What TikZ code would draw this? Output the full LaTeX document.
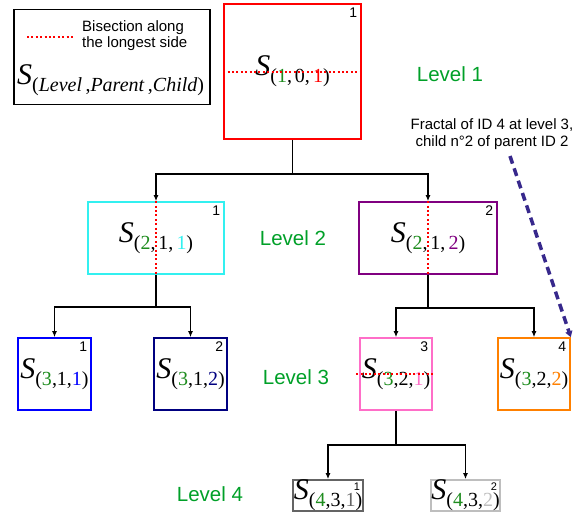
\documentclass[tikz,border=0pt]{standalone}
\usepackage{fontspec}
\setmainfont{Liberation Sans}
\newfontfamily\serifS{Liberation Serif}
\usetikzlibrary{arrows.meta,positioning}

\definecolor{lvgreen}{RGB}{0,160,40}
\definecolor{sgreen}{RGB}{30,140,30}
\definecolor{boxcyan}{RGB}{50,240,240}
\definecolor{boxpurple}{RGB}{128,0,128}
\definecolor{boxpink}{RGB}{255,110,200}
\definecolor{boxorange}{RGB}{255,128,0}
\definecolor{boxgray}{RGB}{100,100,100}
\definecolor{boxlight}{RGB}{190,190,190}
\definecolor{notenavy}{RGB}{55,40,140}

% name of a fractal: S_(level,parent,child), optional space after the commas
\newcommand{\Sname}[5][0pt]{{\serifS\fontsize{30}{30}\selectfont\itshape S}{\serifS\fontsize{20}{20}\selectfont\raisebox{-7pt}{(\textcolor{sgreen}{#2},\hspace{#1}#3,\hspace{#1}\textcolor{#5}{#4})}}}

\tikzset{
  fbox/.style={draw, line width=1.6pt, rectangle, inner sep=0pt},
  corner/.style={anchor=north east, inner sep=2.5pt, font=\fontsize{14}{14}\selectfont},
  lvl/.style={text=lvgreen, font=\fontsize{20.5}{20.5}\selectfont},
  conn/.style={line width=1.6pt},
  arr/.style={line width=1.6pt, -{Latex[length=6pt,width=5pt]}},
  bisect/.style={red, line width=2pt, dash pattern=on 2pt off 2.4pt}
}

\begin{document}
\begin{tikzpicture}[x=1pt, y=-1pt]
\useasboundingbox (0,0) rectangle (587,515);

% Legend
\node[draw, line width=1.2pt, minimum width=196pt, minimum height=95pt, inner sep=0pt] (legend) at (112,57) {};
\coordinate (bl) at (27,37);
\coordinate (br) at (73,37);
\draw[bisect, line width=1.5pt] (bl) -- (br);
\node[anchor=north west, align=left, inner sep=0pt, font=\fontsize{15}{16}\selectfont] (legtxt) at (82,20) {Bisection along\\the longest side};
\node[anchor=west, inner sep=0pt] (legname) at (17,80) {{\serifS\fontsize{30}{30}\selectfont\itshape S}{\serifS\fontsize{20}{20}\selectfont\raisebox{-7pt}{(\textit{Level}\,,\textit{Parent}\,,\textit{Child})}}};

% Level 1
\node[fbox, red, text=black, minimum width=137pt, minimum height=135pt] (l1) at (292.5,71.5) {\Sname[3pt]{1}{0}{1}{red}};
\node[corner] (l1n) at ([xshift=-2pt,yshift=-2pt]l1.north east) {1};
\draw[bisect] (l1.west) -- (l1.east);
\node[lvl] (lv1) at (450,74) {Level 1};

% Level 2
\node[fbox, boxcyan, text=black, minimum width=136pt, minimum height=72pt] (l2a) at (156,238) {\Sname[3pt]{2}{1}{1}{boxcyan}};
\node[corner] (l2an) at ([xshift=-2pt,yshift=-2pt]l2a.north east) {1};
\node[fbox, boxpurple, text=black, minimum width=138pt, minimum height=72pt] (l2b) at (428,238) {\Sname[3pt]{2}{1}{2}{boxpurple}};
\node[corner] (l2bn) at ([xshift=-2pt,yshift=-2pt]l2b.north east) {2};
\draw[bisect] (l2a.north) -- (l2a.south);
\draw[bisect] (l2b.north) -- (l2b.south);
\node[lvl] (lv2) at (293,238) {Level 2};

% Level 3
\node[fbox, blue, text=black, minimum width=73pt, minimum height=72pt] (l3a) at (54.5,374) {\Sname{3}{1}{1}{blue}};
\node[corner] (l3an) at ([xshift=-2pt,yshift=-2pt]l3a.north east) {1};
\node[fbox, blue!50!black, text=black, minimum width=73pt, minimum height=72pt] (l3b) at (190.5,374) {\Sname{3}{1}{2}{blue!50!black}};
\node[corner] (l3bn) at ([xshift=-2pt,yshift=-2pt]l3b.north east) {2};
\node[fbox, boxpink, text=black, minimum width=72pt, minimum height=72pt] (l3c) at (396,374) {\Sname{3}{2}{1}{boxpink}};
\node[corner] (l3cn) at ([xshift=-2pt,yshift=-2pt]l3c.north east) {3};
\node[fbox, boxorange, text=black, minimum width=72pt, minimum height=72pt] (l3d) at (534,374) {\Sname{3}{2}{2}{boxorange}};
\node[corner] (l3dn) at ([xshift=-2pt,yshift=-2pt]l3d.north east) {4};
\draw[bisect] ([xshift=-3pt]l3c.west) -- (l3c.east);
\node[lvl] (lv3) at (296,377) {Level 3};

% Level 4
\node[fbox, boxgray, text=black, minimum width=70pt, minimum height=31pt] (l4a) at (328,495.5) {\Sname{4}{3}{1}{boxgray}};
\node[corner, font=\fontsize{11}{11}\selectfont] (l4an) at ([xshift=-1pt,yshift=-1pt]l4a.north east) {1};
\node[fbox, boxlight, text=black, minimum width=69pt, minimum height=31pt] (l4b) at (465.5,495.5) {\Sname{4}{3}{2}{boxlight}};
\node[corner, font=\fontsize{11}{11}\selectfont] (l4bn) at ([xshift=-1pt,yshift=-1pt]l4b.north east) {2};
\node[lvl] (lv4) at (210,494) {Level 4};

% Connections
\coordinate (j1) at ([yshift=-34pt]l1.south);
\coordinate (j2a) at ([yshift=-32pt]l2a.south);
\coordinate (j2b) at ([yshift=-33pt]l2b.south);
\coordinate (j3c) at ([yshift=-34pt]l3c.south);
\draw[conn] (l1.south) -- (j1);
\draw[arr] (j1) -| (l2a);
\draw[arr] (j1) -| (l2b);
\draw[conn] (l2a.south) -- (j2a);
\draw[arr] (j2a) -| (l3a);
\draw[arr] (j2a) -| (l3b);
\draw[conn] (l2b.south) -- (j2b);
\draw[arr] (j2b) -| (l3c);
\draw[arr] (j2b) -| (l3d);
\draw[conn] (l3c.south) -- (j3c);
\draw[arr] (j3c) -| (l4a);
\draw[arr] (j3c) -| (l4b);

% Note
\node[align=center, font=\fontsize{15}{17}\selectfont] (note) at (492,134) {Fractal of ID 4 at level 3,\\child n°2 of parent ID 2};
\draw[notenavy, line width=3.5pt, dash pattern=on 8pt off 5pt, -{Triangle[length=6pt,width=7pt]}] ([xshift=18pt,yshift=-3pt]note.south) -- (l3d.north east);
\end{tikzpicture}
\end{document}
